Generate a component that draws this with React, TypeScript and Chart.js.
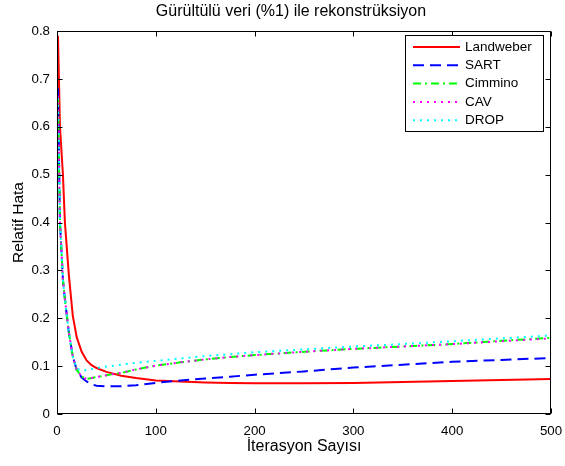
import React, { useEffect, useRef } from "react";
import { Chart, registerables } from "chart.js";

Chart.register(...registerables);

const FONT = "'Liberation Sans', Arial, Helvetica, sans-serif";

const TITLE = "Gürültülü veri (%1) ile rekonstrüksiyon";
const X_LABEL = "İterasyon Sayısı";
const Y_LABEL = "Relatif Hata";

const iterations = [1, 3, 6, 8, 12, 16, 20, 25, 30, 35, 40, 50, 65, 80, 100, 125, 150, 175, 200, 250, 300, 350, 400, 450, 500];

const landweber = [0.79, 0.6, 0.5, 0.4, 0.29, 0.205, 0.16, 0.13, 0.112, 0.102, 0.096, 0.088, 0.08, 0.075, 0.07, 0.068, 0.066, 0.065, 0.064, 0.064, 0.065, 0.067, 0.069, 0.071, 0.073];
const sart = [0.68, 0.4, 0.28, 0.24, 0.17, 0.12, 0.092, 0.076, 0.068, 0.062, 0.059, 0.058, 0.058, 0.06, 0.065, 0.07, 0.074, 0.078, 0.082, 0.089, 0.097, 0.103, 0.109, 0.113, 0.117];
const cimmino = [0.66, 0.4, 0.28, 0.24, 0.17, 0.12, 0.092, 0.078, 0.073, 0.075, 0.077, 0.081, 0.086, 0.093, 0.101, 0.108, 0.114, 0.119, 0.123, 0.13, 0.136, 0.141, 0.146, 0.153, 0.159];
const cav = [0.665, 0.4, 0.28, 0.24, 0.17, 0.12, 0.092, 0.078, 0.073, 0.075, 0.077, 0.081, 0.086, 0.093, 0.101, 0.108, 0.114, 0.119, 0.123, 0.13, 0.136, 0.141, 0.146, 0.152, 0.158];
const drop = [0.66, 0.4, 0.28, 0.24, 0.17, 0.12, 0.095, 0.09, 0.092, 0.094, 0.096, 0.099, 0.103, 0.107, 0.111, 0.116, 0.121, 0.125, 0.129, 0.135, 0.141, 0.146, 0.152, 0.158, 0.164];

const seriesNames = ["Landweber", "SART", "Cimmino", "CAV", "DROP"];
const xTicks = [0, 100, 200, 300, 400, 500];
const yTicks = [0, 0.1, 0.2, 0.3, 0.4, 0.5, 0.6, 0.7, 0.8];

const toPoints = (ys: number[]) => iterations.map((x, i) => ({ x, y: ys[i] }));

const frameAndLegend = {
  id: "frameAndLegend",
  afterDraw(chart: any) {
    const ctx = chart.ctx as CanvasRenderingContext2D;
    const { left, right, top, bottom } = chart.chartArea;
    const xs = chart.scales.x;
    const ys = chart.scales.y;
    ctx.save();
    ctx.strokeStyle = "#000";
    ctx.lineWidth = 1;
    ctx.setLineDash([]);
    const L = Math.round(left) + 0.5;
    const R = Math.round(right) - 0.5;
    const T = Math.round(top) + 0.5;
    const B = Math.round(bottom) - 0.5;
    ctx.strokeRect(L, T, R - L, B - T);
    const tl = 5;
    ctx.beginPath();
    xTicks.forEach((v) => {
      const px = Math.round(xs.getPixelForValue(v)) + 0.5;
      ctx.moveTo(px, B);
      ctx.lineTo(px, B - tl);
      ctx.moveTo(px, T);
      ctx.lineTo(px, T + tl);
    });
    yTicks.forEach((v) => {
      const py = Math.round(ys.getPixelForValue(v)) + 0.5;
      ctx.moveTo(L, py);
      ctx.lineTo(L + tl, py);
      ctx.moveTo(R, py);
      ctx.lineTo(R - tl, py);
    });
    ctx.stroke();

    ctx.fillStyle = "#000";
    ctx.textAlign = "center";
    ctx.textBaseline = "middle";
    ctx.font = `16px ${FONT}`;
    ctx.fillText(TITLE, 291, 12);
    ctx.fillText(X_LABEL, (left + right) / 2, 447);
    ctx.save();
    ctx.font = `15.5px ${FONT}`;
    ctx.translate(19, (top + bottom) / 2);
    ctx.rotate(-Math.PI / 2);
    ctx.fillText(Y_LABEL, 0, 0);
    ctx.restore();

    const bx = 405.5, by = 35.5, bw = 138, bh = 96;
    ctx.fillStyle = "#fff";
    ctx.fillRect(bx, by, bw, bh);
    ctx.strokeStyle = "#000";
    ctx.lineWidth = 1;
    ctx.strokeRect(bx, by, bw, bh);
    ctx.font = `13.5px ${FONT}`;
    chart.data.datasets.forEach((ds: any, i: number) => {
      const yy = 47 + i * 18.3;
      ctx.beginPath();
      ctx.strokeStyle = ds.borderColor;
      ctx.lineWidth = ds.borderWidth;
      ctx.setLineDash(ds.borderDash || []);
      ctx.moveTo(413, yy);
      ctx.lineTo(460, yy);
      ctx.stroke();
      ctx.setLineDash([]);
      ctx.fillStyle = "#000";
      ctx.textAlign = "left";
      ctx.textBaseline = "middle";
      ctx.fillText(ds.label, 465, yy);
    });
    ctx.restore();
  },
};

export default function App() {
  const ref = useRef<HTMLCanvasElement>(null);
  useEffect(() => {
    document.body.style.margin = "0";
    const canvas = ref.current!;
    const chart = new Chart(canvas, {
      type: "line",
      data: {
        datasets: [
          { label: seriesNames[0], data: toPoints(landweber), borderColor: "#ff0000", borderWidth: 2, borderDash: [], order: 5 },
          { label: seriesNames[1], data: toPoints(sart), borderColor: "#0000ff", borderWidth: 2, borderDash: [11, 6], order: 4 },
          { label: seriesNames[2], data: toPoints(cimmino), borderColor: "#00ff00", borderWidth: 2, borderDash: [8, 4, 2, 4], order: 3 },
          { label: seriesNames[3], data: toPoints(cav), borderColor: "#ff00ff", borderWidth: 2, borderDash: [2, 5], order: 2 },
          { label: seriesNames[4], data: toPoints(drop), borderColor: "#00ffff", borderWidth: 2, borderDash: [2, 5], order: 1 },
        ] as any,
      },
      options: {
        animation: false,
        responsive: false,
        devicePixelRatio: 1,
        parsing: false as any,
        elements: { point: { radius: 0 }, line: { tension: 0, fill: false } },
        layout: { padding: { top: 31, right: 14, bottom: 0, left: 0 } },
        plugins: { legend: { display: false }, title: { display: false }, tooltip: { enabled: false } },
        scales: {
          x: {
            type: "linear",
            min: 0,
            max: 500,
            grid: { display: false, drawTicks: false },
            border: { display: false },
            ticks: { stepSize: 100, color: "#000", font: { family: FONT, size: 13.3 }, padding: 9, maxRotation: 0 },
            afterFit: (s: any) => { s.height = 52; s.paddingLeft = 0; s.paddingRight = 0; },
          },
          y: {
            type: "linear",
            min: 0,
            max: 0.8,
            grid: { display: false, drawTicks: false },
            border: { display: false },
            ticks: { stepSize: 0.1, color: "#000", font: { family: FONT, size: 13.3 }, padding: 7 },
            afterFit: (s: any) => { s.width = 57; s.paddingTop = 0; s.paddingBottom = 0; },
          },
        },
      },
      plugins: [frameAndLegend],
    });
    return () => chart.destroy();
  }, []);
  return <canvas ref={ref} width={565} height={466} style={{ display: "block" }} />;
}
